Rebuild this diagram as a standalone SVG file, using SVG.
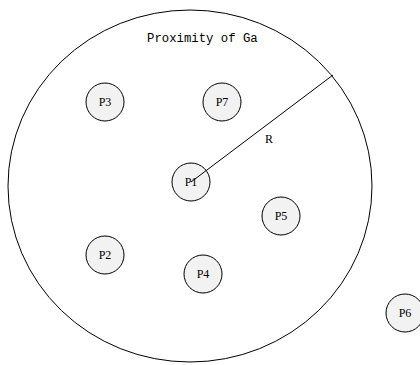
<svg xmlns="http://www.w3.org/2000/svg" width="420" height="365" viewBox="0 0 420 365">
<style>
.n{fill:#f2f2f2;stroke:#000;stroke-width:1}
.t{font-family:"Liberation Serif",serif;font-size:12px;fill:#000;text-anchor:middle}
.m{font-family:"Liberation Mono",monospace;font-size:12.3px;fill:#000}
</style>
<rect width="420" height="365" fill="#fff"/>
<g id="area">
<ellipse cx="190" cy="186" rx="182" ry="176" fill="none" stroke="#000" stroke-width="1"/>
<text class="m" x="147" y="42">Proximity of Ga</text>
</g>
<g id="P3"><circle class="n" cx="105" cy="102" r="19"/><text class="t" x="105" y="106">P3</text></g>
<g id="P7"><circle class="n" cx="222" cy="102" r="19"/><text class="t" x="222" y="106">P7</text></g>
<g id="P1"><circle class="n" cx="191" cy="182" r="19"/><text class="t" x="191" y="186">P1</text></g>
<g id="P5"><circle class="n" cx="281" cy="216" r="19"/><text class="t" x="281" y="220">P5</text></g>
<g id="P2"><circle class="n" cx="105" cy="255" r="19"/><text class="t" x="105" y="259">P2</text></g>
<g id="P4"><circle class="n" cx="203" cy="274" r="19"/><text class="t" x="203" y="278">P4</text></g>
<g id="P6"><circle class="n" cx="405" cy="313" r="19"/><text class="t" x="405" y="317">P6</text></g>
<g id="connectors">
<line x1="191" y1="182" x2="333" y2="75" stroke="#000" stroke-width="1"/>
<text class="t" x="269" y="143">R</text>
</g>
</svg>
